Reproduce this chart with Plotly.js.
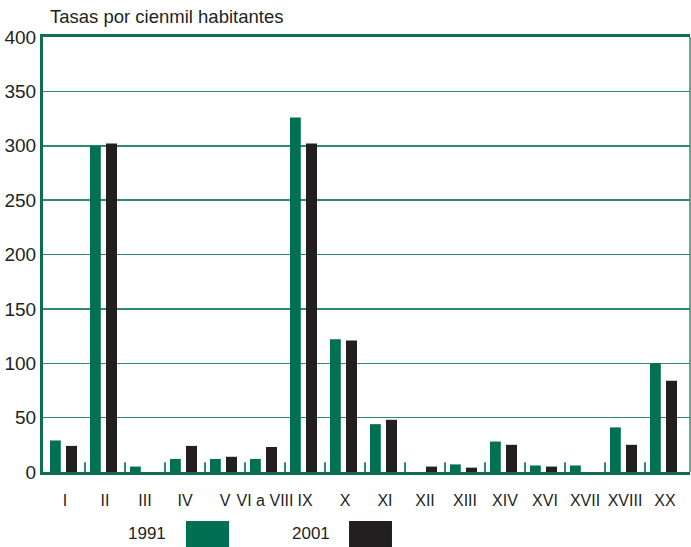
<!DOCTYPE html>
<html>
<head>
<meta charset="utf-8">
<script src="https://cdn.plot.ly/plotly-3.0.1.min.js"></script>
<style>html,body{margin:0;padding:0;background:#fff;}#chart{width:691px;height:547px;}</style>
</head>
<body>
<div id="chart"></div>
<script>
const categories = ['I','II','III','IV','V','VI a VIII','IX','X','XI','XII','XIII','XIV','XVI','XVII','XVIII','XX'];
const seriesNames = ['1991', '2001'];
const values1991 = [29, 300, 5, 12, 12, 12, 326, 122, 44, 0, 7, 28, 6, 6, 41, 100];
const values2001 = [24, 302, 0, 24, 14, 23, 302, 121, 48, 5, 4, 25, 5, 0, 25, 84];
const yTicks = [0, 50, 100, 150, 200, 250, 300, 350, 400];
const yTitle = 'Tasas por cienmil habitantes';

const GREEN = '#007052';
const BLACK = '#231f20';
const AXIS_GREEN = '#0f6e50';
const GRID_GREEN = '#2f8a6d';
const FONT = 'Liberation Sans, Arial, Helvetica, sans-serif';

const xIdx = categories.map((c, i) => i);

const traces = [
  {type: 'bar', name: seriesNames[0], x: xIdx, y: values1991, width: 0.27, offset: -0.375,
   marker: {color: GREEN, line: {width: 0}}, hoverinfo: 'y'},
  {type: 'bar', name: seriesNames[1], x: xIdx, y: values2001, width: 0.275, offset: 0.025,
   marker: {color: BLACK, line: {width: 0}}, hoverinfo: 'y'}
];

const shapes = [];
for (let i = 0; i < categories.length - 1; i++) {
  shapes.push({type: 'line', xref: 'x', yref: 'y', x0: i + 0.5, x1: i + 0.5, y0: 0, y1: 9,
    line: {color: GRID_GREEN, width: 2}});
}
shapes.push({type: 'line', xref: 'paper', yref: 'paper', x0: 1, x1: 1, y0: 0, y1: 1,
  line: {color: GRID_GREEN, width: 1.5}});

const legendColors = [GREEN, BLACK];
const legendTextRight = [0.193, 0.4467];
const legendSwatch = [[0.221, 0.2875], [0.473, 0.5394]];
const annotations = [];
seriesNames.forEach((n, k) => {
  annotations.push({xref: 'paper', yref: 'paper', x: legendTextRight[k], y: -0.1425,
    xanchor: 'right', yanchor: 'middle', showarrow: false, text: n,
    font: {family: FONT, size: 17, color: '#231f20'}});
  shapes.push({type: 'rect', xref: 'paper', yref: 'paper', x0: legendSwatch[k][0], x1: legendSwatch[k][1],
    y0: -0.1126, y1: -0.19, fillcolor: legendColors[k], line: {width: 0}});
});

const layout = {
  width: 691, height: 547,
  margin: {l: 43, r: 1, t: 37, b: 75, pad: 0},
  paper_bgcolor: '#ffffff', plot_bgcolor: '#ffffff',
  font: {family: FONT, color: '#231f20'},
  showlegend: false,
  barmode: 'overlay',
  title: {text: yTitle, xref: 'container', yref: 'container', x: 50/691, xanchor: 'left',
    y: 1 - 17/547, yanchor: 'middle', font: {family: FONT, size: 18.5, color: '#231f20'}},
  xaxis: {
    type: 'category',
    tickmode: 'array', tickvals: xIdx, ticktext: categories,
    range: [-0.55, 15.625],
    showgrid: false, zeroline: false,
    showline: true, linecolor: AXIS_GREEN, linewidth: 3, mirror: true,
    ticks: '', ticklabelstandoff: 12,
    tickfont: {family: FONT, size: 16, color: '#231f20'}
  },
  yaxis: {
    range: [0, 400], tickmode: 'array', tickvals: yTicks,
    showgrid: true, gridcolor: GRID_GREEN, gridwidth: 1.5,
    zeroline: false,
    showline: true, linecolor: AXIS_GREEN, linewidth: 3,
    ticks: '', ticklabelstandoff: 0,
    tickfont: {family: FONT, size: 19, color: '#231f20'}
  },
  shapes: shapes,
  annotations: annotations
};

Plotly.newPlot('chart', traces, layout, {displayModeBar: false, staticPlot: true});
</script>
</body>
</html>
